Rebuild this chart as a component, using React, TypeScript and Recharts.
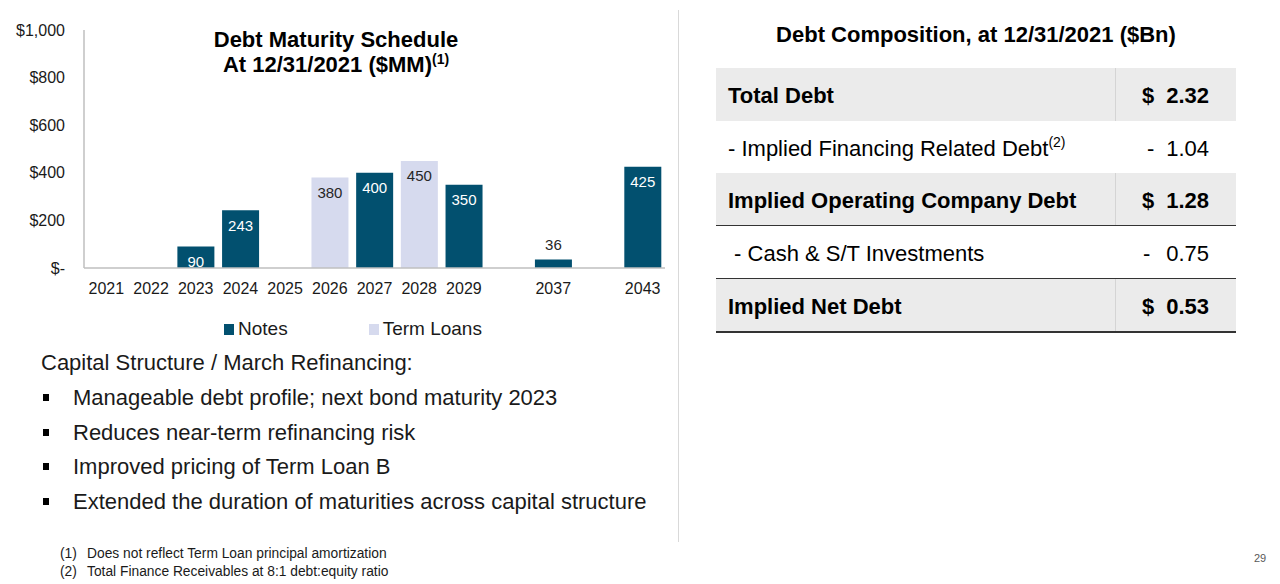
import React from 'react';
import { BarChart, Bar, XAxis, YAxis, LabelList } from 'recharts';

const years = ['2021', '2022', '2023', '2024', '2025', '2026', '2027', '2028', '2029', '', '2037', ' ', '2043'];
const notes = [0, 0, 90, 243, 0, 0, 400, 0, 350, 0, 36, 0, 425];
const termLoans = [0, 0, 0, 0, 0, 380, 0, 450, 0, 0, 0, 0, 0];
const yTicks = [0, 200, 400, 600, 800, 1000];

const seriesNames = ['Notes', 'Term Loans'];
const seriesColors = ['#02506f', '#d6daee'];

const tableLabels = [
  'Total Debt',
  '- Implied Financing Related Debt',
  'Implied Operating Company Debt',
  ' - Cash & S/T Investments',
  'Implied Net Debt',
];
const tableSup = ['', '(2)', '', '', ''];
const tableSymbols = ['$', '-', '$', '-', '$'];
const tableValues = ['2.32', '1.04', '1.28', '0.75', '0.53'];
const tableBold = [true, false, true, false, true];
const tableShaded = [true, false, true, false, true];
const tableRuleBelow = [false, true, true, true, true];

const bullets = [
  'Manageable debt profile; next bond maturity 2023',
  'Reduces near-term refinancing risk',
  'Improved pricing of Term Loan B',
  'Extended the duration of maturities across capital structure',
];
const footnotes = [
  ['(1)', 'Does not reflect Term Loan principal amortization'],
  ['(2)', 'Total Finance Receivables at 8:1 debt:equity ratio'],
];

const data = years.map((year, i) => ({ year, notes: notes[i], termLoans: termLoans[i] }));

const FONT = '"Liberation Sans", Arial, Helvetica, sans-serif';
const TEXT = '#1a1a1a';

const makeLabel = (insideFill: string) => (props: any) => {
  const vb = props.viewBox || props;
  const x = Number(vb.x ?? props.x);
  const y = Number(vb.y ?? props.y);
  const width = Number(vb.width ?? props.width);
  const height = Math.abs(Number(vb.height ?? props.height));
  const v = props.value;
  if (!v) return null;
  const cx = x + width / 2;
  const small = height < 15;
  const ty = small ? y - 15 : y + 15;
  return (
    <text
      x={cx}
      y={ty}
      textAnchor="middle"
      dominantBaseline="central"
      fontSize={15}
      fontFamily={FONT}
      fill={small ? '#262626' : insideFill}
    >
      {v}
    </text>
  );
};

const yFmt = (v: number) => (v === 0 ? '$-' : '$' + v.toLocaleString('en-US'));

const rowTops = [68, 121, 173, 226, 279];
const rowH = 53;

export default function App() {
  return (
    <div
      style={{
        position: 'absolute',
        left: 0,
        top: 0,
        width: 1280,
        height: 584,
        background: '#fff',
        fontFamily: FONT,
        color: TEXT,
        overflow: 'hidden',
      }}
    >
      {/* Chart */}
      <div style={{ position: 'absolute', left: 0, top: 0 }}>
        <BarChart
          width={680}
          height={310}
          data={data}
          margin={{ top: 30, right: 15, bottom: 10, left: 0 }}
          barSize={37}
        >
          <XAxis
            dataKey="year"
            interval={0}
            tickLine={false}
            axisLine={{ stroke: '#bfbfbf', strokeWidth: 1.5 }}
            tick={{ fontSize: 16, fill: TEXT, fontFamily: FONT }}
            tickMargin={9}
            height={32}
          />
          <YAxis
            domain={[0, 1000]}
            ticks={yTicks}
            interval={0}
            width={84}
            tickLine={false}
            tickSize={0}
            tickMargin={19}
            axisLine={{ stroke: '#bfbfbf', strokeWidth: 1.5 }}
            tick={{ fontSize: 16, fill: TEXT, fontFamily: FONT }}
            tickFormatter={yFmt}
          />
          <Bar dataKey="notes" stackId="a" fill={seriesColors[0]} isAnimationActive={false}>
            <LabelList dataKey="notes" content={makeLabel('#ffffff')} />
          </Bar>
          <Bar dataKey="termLoans" stackId="a" fill={seriesColors[1]} isAnimationActive={false}>
            <LabelList dataKey="termLoans" content={makeLabel('#262626')} />
          </Bar>
        </BarChart>
      </div>

      {/* Chart title */}
      <div
        style={{
          position: 'absolute',
          left: 186,
          width: 300,
          top: 27,
          textAlign: 'center',
          fontWeight: 'bold',
          fontSize: 22,
          lineHeight: '25px',
          color: '#000',
        }}
      >
        <div>Debt Maturity Schedule</div>
        <div style={{ whiteSpace: 'nowrap' }}>
          At 12/31/2021 ($MM)
          <span style={{ fontSize: 14, position: 'relative', top: -8 }}>(1)</span>
        </div>
      </div>

      {/* Legend */}
      <div style={{ position: 'absolute', left: 224, top: 318, fontSize: 19, lineHeight: '22px', display: 'flex' }}>
        {seriesNames.map((n, i) => (
          <div key={n} style={{ display: 'flex', alignItems: 'center', marginRight: i === 0 ? 81 : 0 }}>
            <span style={{ display: 'inline-block', width: 10, height: 11, background: seriesColors[i], marginRight: 4 }} />
            <span>{n}</span>
          </div>
        ))}
      </div>

      {/* Capital structure text */}
      <div style={{ position: 'absolute', left: 41, top: 350, fontSize: 22, lineHeight: '26px', whiteSpace: 'nowrap' }}>
        Capital Structure / March Refinancing:
      </div>
      {bullets.map((b, i) => (
        <div key={b} style={{ position: 'absolute', left: 0, top: 385 + i * 34.7, fontSize: 22, lineHeight: '26px' }}>
          <span
            style={{ position: 'absolute', left: 43, top: 9, width: 6, height: 7, background: '#000' }}
          />
          <span style={{ position: 'absolute', left: 73, whiteSpace: 'nowrap' }}>{b}</span>
        </div>
      ))}

      {/* Footnotes */}
      {footnotes.map((f, i) => (
        <div key={f[0]} style={{ position: 'absolute', left: 60, top: 545 + i * 17.5, fontSize: 13.8, lineHeight: '17px', whiteSpace: 'nowrap' }}>
          <span>{f[0]}</span>
          <span style={{ position: 'absolute', left: 27 }}>{f[1]}</span>
        </div>
      ))}

      {/* Divider */}
      <div style={{ position: 'absolute', left: 678, top: 10, width: 1, height: 532, background: '#d9d9d9' }} />

      {/* Right title */}
      <div
        style={{
          position: 'absolute',
          left: 716,
          width: 520,
          top: 22,
          textAlign: 'center',
          fontWeight: 'bold',
          fontSize: 22,
          lineHeight: '26px',
          color: '#000',
          whiteSpace: 'nowrap',
        }}
      >
        Debt Composition, at 12/31/2021 ($Bn)
      </div>

      {/* Table */}
      {tableLabels.map((lab, i) => (
        <div
          key={lab}
          style={{
            position: 'absolute',
            left: 716,
            width: 520,
            top: rowTops[i],
            height: rowH,
            background: tableShaded[i] ? '#ebebeb' : '#fff',
            fontWeight: tableBold[i] ? 'bold' : 'normal',
            fontSize: 22,
            color: '#000',
          }}
        >
          {tableShaded[i] && (
            <div style={{ position: 'absolute', left: 399, top: 0, width: 1, height: rowH, background: '#d4d4d4' }} />
          )}
          <div style={{ position: 'absolute', left: 12, top: 1, height: rowH, lineHeight: rowH + 'px', whiteSpace: 'pre' }}>
            {lab}
            {tableSup[i] && (
              <span style={{ fontSize: 14, position: 'relative', top: -9 }}>{tableSup[i]}</span>
            )}
          </div>
          <div
            style={{
              position: 'absolute',
              left: tableSymbols[i] === '$' ? 426 : i === 1 ? 431 : 427,
              top: 1,
              height: rowH,
              lineHeight: rowH + 'px',
            }}
          >
            {tableSymbols[i]}
          </div>
          <div
            style={{
              position: 'absolute',
              right: 27,
              top: 1,
              height: rowH,
              lineHeight: rowH + 'px',
              textAlign: 'right',
            }}
          >
            {tableValues[i]}
          </div>
          {tableRuleBelow[i] && (
            <div style={{ position: 'absolute', left: 0, bottom: -1, width: 520, height: 2, background: '#333' }} />
          )}
        </div>
      ))}

      {/* Page number */}
      <div style={{ position: 'absolute', left: 1254, top: 552, fontSize: 11, color: '#595959' }}>29</div>
    </div>
  );
}
